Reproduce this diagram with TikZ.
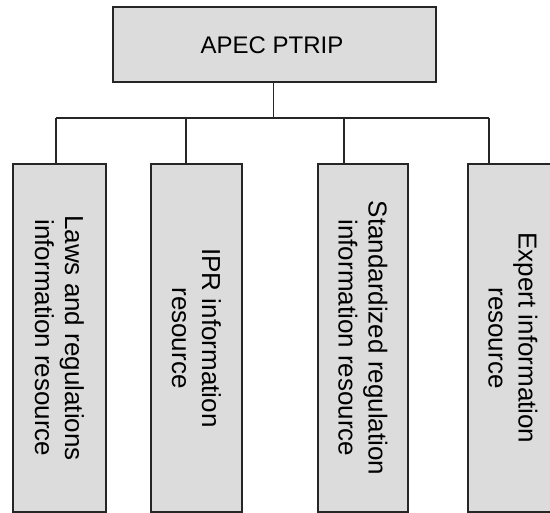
\documentclass[tikz,border=0pt]{standalone}
\usepackage{fontspec}
\setmainfont{Liberation Sans}
\begin{document}
\begin{tikzpicture}[x=1pt,y=-1pt,
  boxstyle/.style={draw=black!85, line width=1.8pt, fill=boxgray, inner sep=0pt},
  toptext/.style={font=\fontsize{24}{29}\selectfont},
  sidetext/.style={font=\fontsize{26}{30}\selectfont, align=center},
  conn/.style={draw=black!85, line width=1.8pt}]
\definecolor{boxgray}{HTML}{DCDCDC}
\useasboundingbox[fill=white] (0,0) rectangle (550,513);
\begin{scope}
\clip (0,0) rectangle (550,513);
\node[boxstyle, minimum width=323pt, minimum height=75pt] (top) at (274.5,44.5) {};
\node[toptext] (toplabel) at (272,45) {APEC PTRIP};
\node[boxstyle, minimum width=93pt, minimum height=348pt] (b1) at (59.5,338) {};
\node[boxstyle, minimum width=91pt, minimum height=348pt] (b2) at (196.5,338) {};
\node[boxstyle, minimum width=90pt, minimum height=348pt] (b3) at (363,338) {};
\node[boxstyle, minimum width=90pt, minimum height=348pt] (b4) at (513,338) {};
\node[sidetext, rotate=-90] (t1) at (b1.center) {Laws and regulations\\information resource};
\node[sidetext, rotate=-90] (t2) at (b2.center) {IPR information\\resource};
\node[sidetext, rotate=-90] (t3) at (b3.center) {Standardized regulation\\information resource};
\node[sidetext, rotate=-90] (t4) at (b4.center) {Expert information\\resource};
\coordinate (hub) at (273.5,118);
\coordinate (j1) at (56,118);
\coordinate (j2) at (186,118);
\coordinate (j3) at (344,118);
\coordinate (j4) at (489,118);
\draw[conn] (top.south -| hub) -- (hub);
\draw[conn] (j1) -- (j4);
\draw[conn] (j1) -- (j1 |- b1.north);
\draw[conn] (j2) -- (j2 |- b2.north);
\draw[conn] (j3) -- (j3 |- b3.north);
\draw[conn] (j4) -- (j4 |- b4.north);
\end{scope}
\end{tikzpicture}
\end{document}
